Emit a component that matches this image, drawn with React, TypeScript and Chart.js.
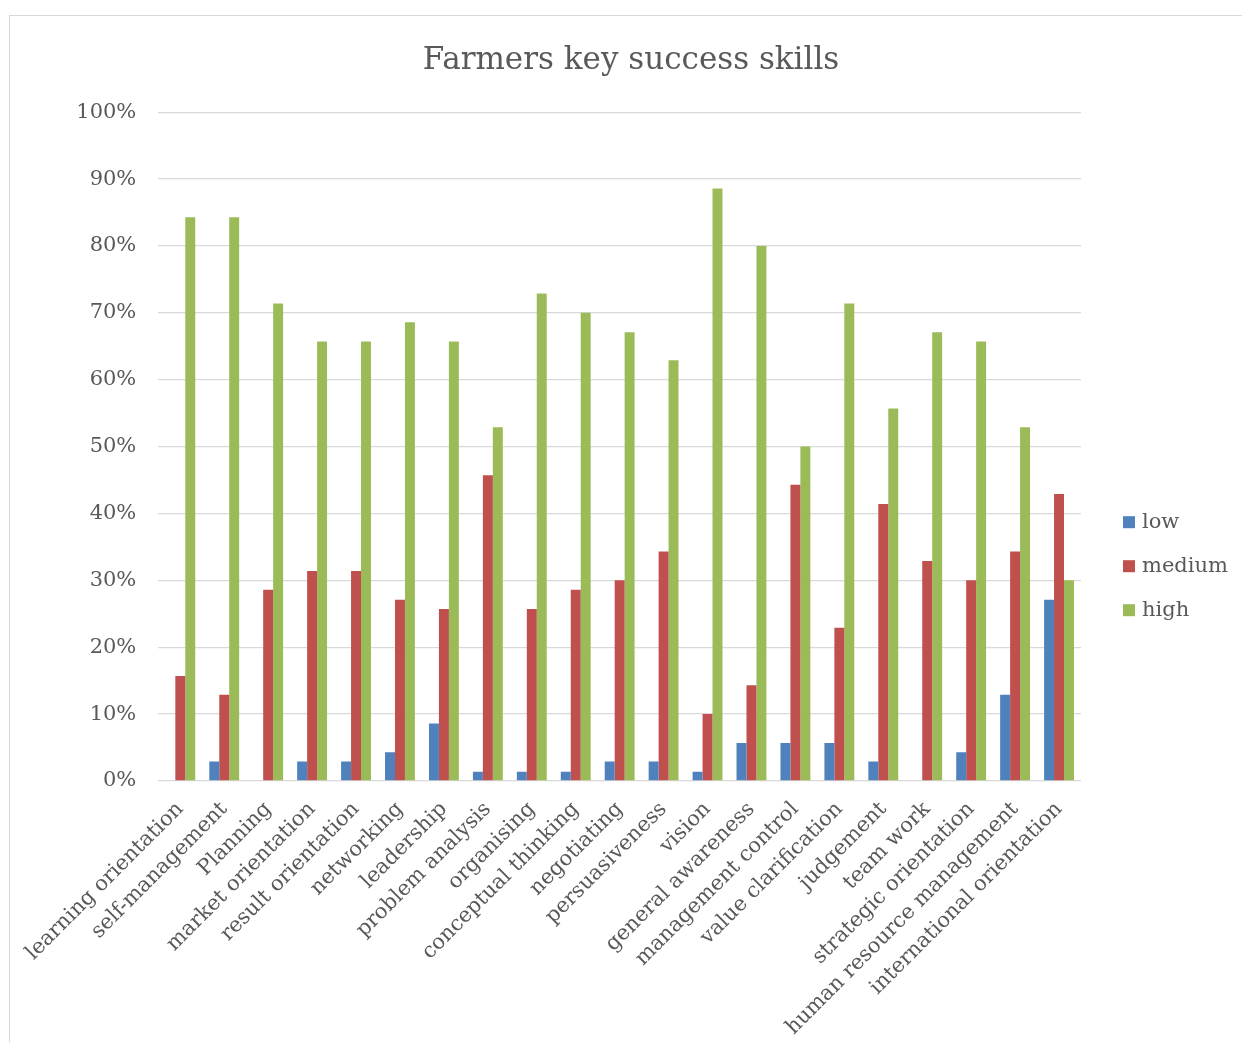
import React, { useEffect, useRef } from "react";
import { Chart, registerables } from "chart.js";

Chart.register(...registerables);

const TITLE = "Farmers key success skills";

const categories = [
  "learning orientation",
  "self-management",
  "Planning",
  "market orientation",
  "result orientation",
  "networking",
  "leadership",
  "problem analysis",
  "organising",
  "conceptual thinking",
  "negotiating",
  "persuasiveness",
  "vision",
  "general awareness",
  "management control",
  "value clarification",
  "judgement",
  "team work",
  "strategic orientation",
  "human resource management",
  "international orientation",
];

const lowValues = [0, 2.9, 0, 2.9, 2.9, 4.3, 8.6, 1.4, 1.4, 1.4, 2.9, 2.9, 1.4, 5.7, 5.7, 5.7, 2.9, 0, 4.3, 12.9, 27.1];
const mediumValues = [15.7, 12.9, 28.6, 31.4, 31.4, 27.1, 25.7, 45.7, 25.7, 28.6, 30.0, 34.3, 10.0, 14.3, 44.3, 22.9, 41.4, 32.9, 30.0, 34.3, 42.9];
const highValues = [84.3, 84.3, 71.4, 65.7, 65.7, 68.6, 65.7, 52.9, 72.9, 70.0, 67.1, 62.9, 88.6, 80.0, 50.0, 71.4, 55.7, 67.1, 65.7, 52.9, 30.0];

const seriesNames = ["low", "medium", "high"];
const seriesColors = ["#4F81BD", "#C0504D", "#9BBB59"];

const yTicks = [0, 10, 20, 30, 40, 50, 60, 70, 80, 90, 100];

const FONT = "'DejaVu Serif', serif";
const TEXT_COLOR = "#595959";
const GRID_COLOR = "#D9D9D9";

const sideLegend = {
  id: "sideLegend",
  afterDraw(chart: any) {
    const { ctx, chartArea } = chart;
    const items = chart.data.datasets;
    const spacing = 44;
    const centerY = chartArea.top + 454;
    const startY = centerY - ((items.length - 1) * spacing) / 2;
    const boxX = chartArea.right + 42;
    const box = 12;
    ctx.save();
    ctx.font = `21px ${FONT}`;
    ctx.textBaseline = "middle";
    ctx.textAlign = "left";
    items.forEach((ds: any, i: number) => {
      const y = startY + i * spacing;
      ctx.fillStyle = ds.backgroundColor;
      ctx.fillRect(boxX, y - box / 2, box, box);
      ctx.fillStyle = TEXT_COLOR;
      ctx.fillText(ds.label, boxX + box + 7, y);
    });
    ctx.restore();
  },
};

export default function App() {
  const canvasRef = useRef<HTMLCanvasElement | null>(null);

  useEffect(() => {
    if (!canvasRef.current) return;
    const values = [lowValues, mediumValues, highValues];
    const chart = new Chart(canvasRef.current, {
      type: "bar",
      data: {
        labels: categories,
        datasets: seriesNames.map((name, i) => ({
          label: name,
          data: values[i],
          backgroundColor: seriesColors[i],
          borderWidth: 0,
          categoryPercentage: 0.68,
          barPercentage: 1.0,
        })),
      },
      options: {
        animation: false,
        responsive: false,
        maintainAspectRatio: false,
        layout: { padding: { left: 10, right: 0, top: 0, bottom: 0 } },
        plugins: {
          legend: { display: false },
          tooltip: { enabled: false },
          title: {
            display: true,
            text: TITLE,
            color: TEXT_COLOR,
            font: { family: FONT, size: 31, weight: "normal" },
            padding: { top: 26, bottom: 33 },
          },
        },
        scales: {
          x: {
            grid: { display: false, drawTicks: false },
            border: { display: false },
            ticks: {
              autoSkip: false,
              minRotation: 45,
              maxRotation: 45,
              padding: 16,
              color: TEXT_COLOR,
              font: { family: FONT, size: 21 },
            },
            afterFit: (scale: any) => {
              scale.height = 261;
            },
          },
          y: {
            min: 0,
            max: 100,
            afterBuildTicks: (scale: any) => {
              scale.ticks = yTicks.map((v) => ({ value: v }));
            },
            grid: { color: GRID_COLOR, lineWidth: 1.3, drawTicks: false },
            border: { display: false },
            ticks: {
              padding: 22,
              color: TEXT_COLOR,
              font: { family: FONT, size: 21 },
              callback: (v: any) => `${v}%`,
            },
            afterFit: (scale: any) => {
              scale.width = 138;
            },
          },
          legendSpace: {
            type: "linear",
            position: "right",
            display: true,
            grid: { display: false, drawTicks: false },
            border: { display: false },
            ticks: { display: false },
            afterFit: (scale: any) => {
              scale.width = 161;
            },
          },
        },
      },
      plugins: [sideLegend],
    });
    return () => chart.destroy();
  }, []);

  return (
    <div
      style={{
        position: "absolute",
        left: 9,
        top: 15,
        width: 1233,
        height: 1027,
        borderTop: "1px solid #D9D9D9",
        borderLeft: "1px solid #D9D9D9",
        boxSizing: "border-box",
        background: "#fff",
        overflow: "hidden",
      }}
    >
      <canvas ref={canvasRef} width={1232} height={1026} style={{ display: "block" }} />
    </div>
  );
}
